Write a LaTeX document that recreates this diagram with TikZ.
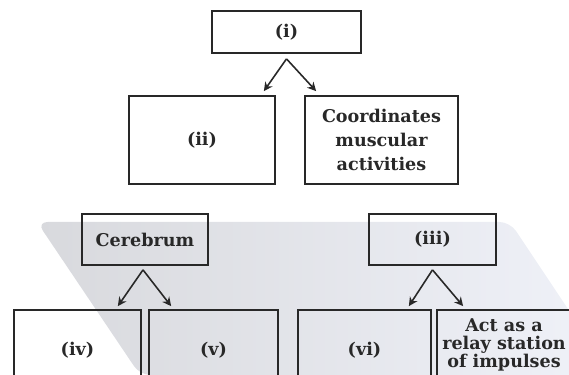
\documentclass[tikz,border=0pt]{standalone}
\usepackage{fontspec}
\usetikzlibrary{arrows.meta}
\newfontfamily\labelfont{DejaVu Serif}
\definecolor{inkgray}{RGB}{40,40,40}
\definecolor{markleft}{RGB}{216,217,221}
\definecolor{markright}{RGB}{240,242,249}

\begin{document}
\begin{tikzpicture}[%
      x=0.02cm, y=-0.02cm,
      box/.style={draw=inkgray, line width=1pt, text=inkgray, align=center,
        inner sep=0pt, font=\labelfont\bfseries\fontsize{10}{13.6}\selectfont},
      tight/.style={font=\labelfont\bfseries\fontsize{10}{10.4}\selectfont},
      link/.style={draw=inkgray, line width=0.9pt, -{Stealth[length=5pt,width=5pt]}},
      ]
      \useasboundingbox (0,0) rectangle (569,375);
      \clip (0,0) rectangle (569,375);
      \shade [left color=markleft, right color=markright, rounded corners=6pt]
        (37,222) -- (510,222) -- (612,375) -- (140,375) -- cycle;

      \node [box, minimum width=2.98cm, minimum height=0.84cm] (brain) at (286.5,32) {(i)};
      \node [box, minimum width=2.92cm, minimum height=1.76cm] (fore) at (202,140) {(ii)};
      \node [box, minimum width=3.06cm, minimum height=1.76cm] (coord) at (381.5,140) {Coordinates\\muscular\\activities};

      \node [box, minimum width=2.52cm, minimum height=1.02cm] (cerebrum) at (145,239.5) {Cerebrum};
      \node [box, minimum width=2.54cm, minimum height=1.02cm] (mid) at (432.5,239.5) {(iii)};

      \node [box, minimum width=2.54cm, minimum height=1.6cm] (partiv) at (77.5,350) {(iv)};
      \node [box, minimum width=2.58cm, minimum height=1.6cm] (partv) at (213.5,350) {(v)};
      \node [box, minimum width=2.66cm, minimum height=1.6cm] (partvi) at (364.5,350) {(vi)};
      \node [box, tight, minimum width=2.68cm, minimum height=1.4cm] (relay) at (504,345) {Act as a\\relay station\\of impulses};

      \coordinate (brain-fork) at ([yshift=-0.1cm]brain.south);
      \coordinate (cerebrum-fork) at ([xshift=-0.04cm,yshift=-0.08cm]cerebrum.south);
      \coordinate (mid-fork) at ([yshift=-0.08cm]mid.south);

      \draw [link] (brain-fork) -- ([xshift=-0.24cm,yshift=0.08cm]fore.north east);
      \draw [link] (brain-fork) -- ([xshift=0.24cm,yshift=0.08cm]coord.north west);
      \draw [link] (cerebrum-fork) -- ([xshift=-0.48cm,yshift=0.06cm]partiv.north east);
      \draw [link] (cerebrum-fork) -- ([xshift=0.46cm,yshift=0.06cm]partv.north west);
      \draw [link] (mid-fork) -- ([xshift=-0.46cm,yshift=0.06cm]partvi.north east);
      \draw [link] (mid-fork) -- ([xshift=0.54cm,yshift=0.06cm]relay.north west);
      \end{tikzpicture}
\end{document}
